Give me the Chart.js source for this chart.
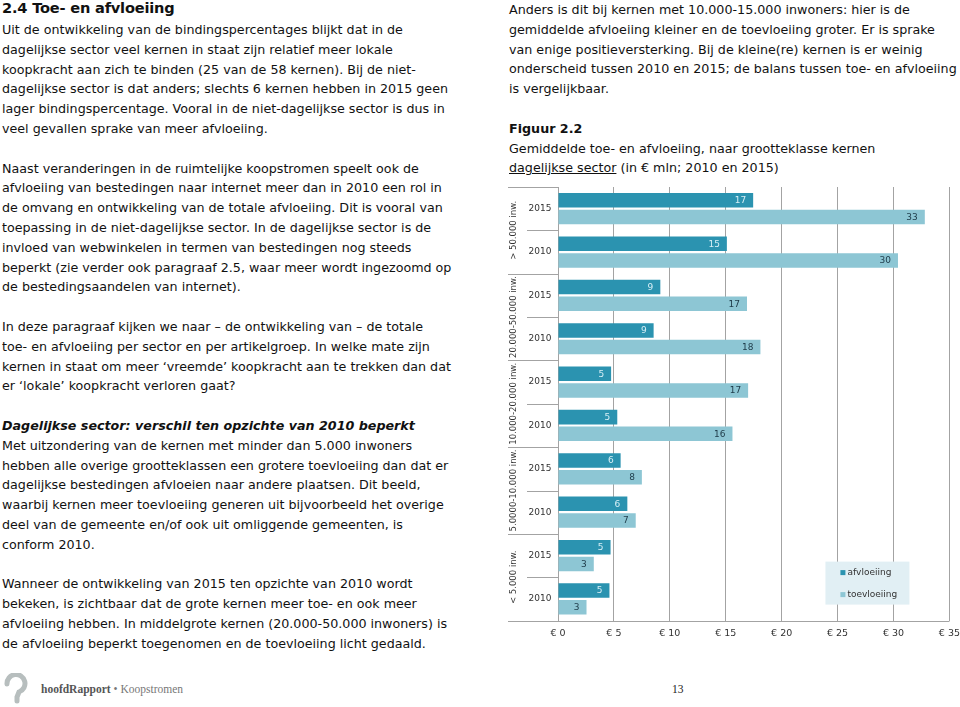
<!DOCTYPE html>
<html>
<head>
<meta charset="utf-8">
<script src="https://cdn.jsdelivr.net/npm/chart.js@4.4.1/dist/chart.umd.min.js"></script>
<style>
  html, body { margin: 0; padding: 0; background: #fff; width: 960px; height: 707px; overflow: hidden; }
  body { font-family: "DejaVu Sans", Verdana, sans-serif; color: #111; position: relative; }
  .col { position: absolute; font-size: 12.7px; line-height: 19.8px; white-space: nowrap; }
  .col div { height: 19.8px; }
  h2 { position: absolute; left: 2px; top: -1px; margin: 0; font-size: 14.6px; line-height: 18px; font-weight: bold; letter-spacing: -0.2px; }
  .bi { font-weight: bold; font-style: italic; }
  .b { font-weight: bold; }
  u { text-decoration: underline; }
  #chartBox { position: absolute; left: 495px; top: 180px; }
  .foot { position: absolute; top: 683px; font-family: "Liberation Serif", serif; font-size: 11.5px; color: #777; }
  .foot b { color: #555; }
</style>
</head>
<body>
<h2>2.4 Toe- en afvloeiing</h2>
<div class="col" style="left:2px; top:20px;">
  <div>Uit de ontwikkeling van de bindingspercentages blijkt dat in de</div>
  <div>dagelijkse sector veel kernen in staat zijn relatief meer lokale</div>
  <div>koopkracht aan zich te binden (25 van de 58 kernen). Bij de niet-</div>
  <div>dagelijkse sector is dat anders; slechts 6 kernen hebben in 2015 geen</div>
  <div>lager bindingspercentage. Vooral in de niet-dagelijkse sector is dus in</div>
  <div>veel gevallen sprake van meer afvloeiing.</div>
  <div></div>
  <div>Naast veranderingen in de ruimtelijke koopstromen speelt ook de</div>
  <div>afvloeiing van bestedingen naar internet meer dan in 2010 een rol in</div>
  <div>de omvang en ontwikkeling van de totale afvloeiing. Dit is vooral van</div>
  <div>toepassing in de niet-dagelijkse sector. In de dagelijkse sector is de</div>
  <div>invloed van webwinkelen in termen van bestedingen nog steeds</div>
  <div>beperkt (zie verder ook paragraaf 2.5, waar meer wordt ingezoomd op</div>
  <div>de bestedingsaandelen van internet).</div>
  <div></div>
  <div>In deze paragraaf kijken we naar – de ontwikkeling van – de totale</div>
  <div>toe- en afvloeiing per sector en per artikelgroep. In welke mate zijn</div>
  <div>kernen in staat om meer ‘vreemde’ koopkracht aan te trekken dan dat</div>
  <div>er ‘lokale’ koopkracht verloren gaat?</div>
  <div></div>
  <div class="bi">Dagelijkse sector: verschil ten opzichte van 2010 beperkt</div>
  <div>Met uitzondering van de kernen met minder dan 5.000 inwoners</div>
  <div>hebben alle overige grootteklassen een grotere toevloeiing dan dat er</div>
  <div>dagelijkse bestedingen afvloeien naar andere plaatsen. Dit beeld,</div>
  <div>waarbij kernen meer toevloeiing generen uit bijvoorbeeld het overige</div>
  <div>deel van de gemeente en/of ook uit omliggende gemeenten, is</div>
  <div>conform 2010.</div>
  <div></div>
  <div>Wanneer de ontwikkeling van 2015 ten opzichte van 2010 wordt</div>
  <div>bekeken, is zichtbaar dat de grote kernen meer toe- en ook meer</div>
  <div>afvloeiing hebben. In middelgrote kernen (20.000-50.000 inwoners) is</div>
  <div>de afvloeiing beperkt toegenomen en de toevloeiing licht gedaald.</div>
</div>
<div class="col" style="left:509px; top:0px;">
  <div>Anders is dit bij kernen met 10.000-15.000 inwoners: hier is de</div>
  <div>gemiddelde afvloeiing kleiner en de toevloeiing groter. Er is sprake</div>
  <div>van enige positieversterking. Bij de kleine(re) kernen is er weinig</div>
  <div>onderscheid tussen 2010 en 2015; de balans tussen toe- en afvloeiing</div>
  <div>is vergelijkbaar.</div>
  <div></div>
  <div class="b">Figuur 2.2</div>
  <div>Gemiddelde toe- en afvloeiing, naar grootteklasse kernen</div>
  <div><u>dagelijkse sector</u> (in € mln; 2010 en 2015)</div>
</div>
<div id="chartBox"><canvas id="chart" width="472" height="471"></canvas></div>

<svg style="position:absolute; left:2px; top:673px;" width="30" height="34" viewBox="0 0 30 34">
  <path d="M5 11 A9 9 0 1 1 17 19 L15 24 L15 28" fill="none" stroke="#b7bebe" stroke-width="5" stroke-linecap="round"/>
</svg>
<div class="foot" style="left:41px;"><b>hoofdRapport</b> • Koopstromen</div>
<div class="foot" style="left:672px; color:#222;">13</div>

<script>
// grootteklassen en jaren (van boven naar onder)
const groups = ['> 50.000 inw.', '20.000-50.000 inw.', '10.000-20.000 inw.', '5.0000-10.000 inw.', '< 5.000 inw.'];
const years = ['2015', '2010'];
// € mln
const afvloeiing = [17.45, 15.1, 9.15, 8.55, 4.75, 5.3, 5.6, 6.2, 4.7, 4.6];
const toevloeiing = [32.8, 30.4, 16.9, 18.1, 17.0, 15.6, 7.5, 6.95, 3.2, 2.55];
const xMax = 35;
const xStep = 5;

const COLORS = { afv: '#2b93b0', toe: '#8dc6d4', grid: '#a3a3a3', text: '#333' };
const FONT = '"DejaVu Sans", Verdana, sans-serif';

const rowLabels = groups.flatMap(() => years);

// labels op de balken, afgerond
const barLabels = {
  id: 'barLabels',
  afterDatasetsDraw(chart) {
    const { ctx } = chart;
    const colors = ['#d7eff6', '#1d3a48'];
    ctx.save();
    ctx.font = '9px ' + FONT;
    ctx.textAlign = 'right';
    ctx.textBaseline = 'middle';
    chart.data.datasets.forEach((ds, di) => {
      chart.getDatasetMeta(di).data.forEach((bar, i) => {
        ctx.fillStyle = colors[di];
        ctx.fillText(String(Math.round(ds.data[i])), bar.x - 7, bar.y + 0.5);
      });
    });
    ctx.restore();
  }
};

// tweeledige categorie-as + legenda
const multiAxis = {
  id: 'multiAxis',
  afterDraw(chart) {
    const { ctx, chartArea: area, scales: { y } } = chart;
    const step = y.getPixelForValue(1) - y.getPixelForValue(0);
    ctx.save();
    ctx.strokeStyle = COLORS.grid;
    ctx.lineWidth = 1;
    ctx.fillStyle = COLORS.text;
    ctx.textBaseline = 'middle';
    ctx.textAlign = 'center';

    for (let i = 0; i <= rowLabels.length; i++) {
      const py = Math.round(area.top + i * step) + 0.5;
      const x0 = i % years.length === 0 ? 13 : 32;
      const x1 = i === rowLabels.length ? area.right : area.left;
      ctx.beginPath();
      ctx.moveTo(x0, py);
      ctx.lineTo(x1, py);
      ctx.stroke();
    }
    ctx.font = '9px ' + FONT;
    rowLabels.forEach((lab, i) => ctx.fillText(lab, 45, y.getPixelForValue(i)));

    ctx.font = '8.5px ' + FONT;
    groups.forEach((g, gi) => {
      const cy = area.top + (gi + 0.5) * years.length * step;
      ctx.save();
      ctx.translate(18.5, cy);
      ctx.rotate(-Math.PI / 2);
      ctx.fillText(g, 0, 0);
      ctx.restore();
    });

    // legenda
    const bx = area.right - 124, by = area.bottom - 59;
    ctx.fillStyle = '#e1eff4';
    ctx.fillRect(bx, by, 84, 43);
    ctx.textAlign = 'left';
    ctx.font = '9px ' + FONT;
    chart.data.datasets.forEach((ds, di) => {
      const ly = by + 11 + di * 22;
      ctx.fillStyle = ds.backgroundColor;
      ctx.fillRect(bx + 15, ly - 2.5, 5, 5);
      ctx.fillStyle = COLORS.text;
      ctx.fillText(ds.label, bx + 22, ly);
    });
    ctx.restore();
  }
};

new Chart(document.getElementById('chart'), {
  type: 'bar',
  data: {
    labels: rowLabels,
    datasets: [
      { label: 'afvloeiing', data: afvloeiing, backgroundColor: COLORS.afv },
      { label: 'toevloeiing', data: toevloeiing, backgroundColor: COLORS.toe }
    ]
  },
  options: {
    indexAxis: 'y',
    responsive: false,
    animation: false,
    categoryPercentage: 0.77,
    barPercentage: 0.87,
    layout: { padding: { left: 63, top: 7, bottom: 5, right: 0 } },
    plugins: {
      legend: { display: false },
      tooltip: { enabled: false }
    },
    scales: {
      x: {
        min: 0,
        max: xMax,
        ticks: {
          stepSize: xStep,
          padding: 7,
          color: COLORS.text,
          font: { family: FONT, size: 9.5 },
          callback: v => '€ ' + v
        },
        grid: { color: COLORS.grid, drawTicks: false },
        border: { display: false }
      },
      y: { display: false }
    }
  },
  plugins: [barLabels, multiAxis]
});
</script>
</body>
</html>
